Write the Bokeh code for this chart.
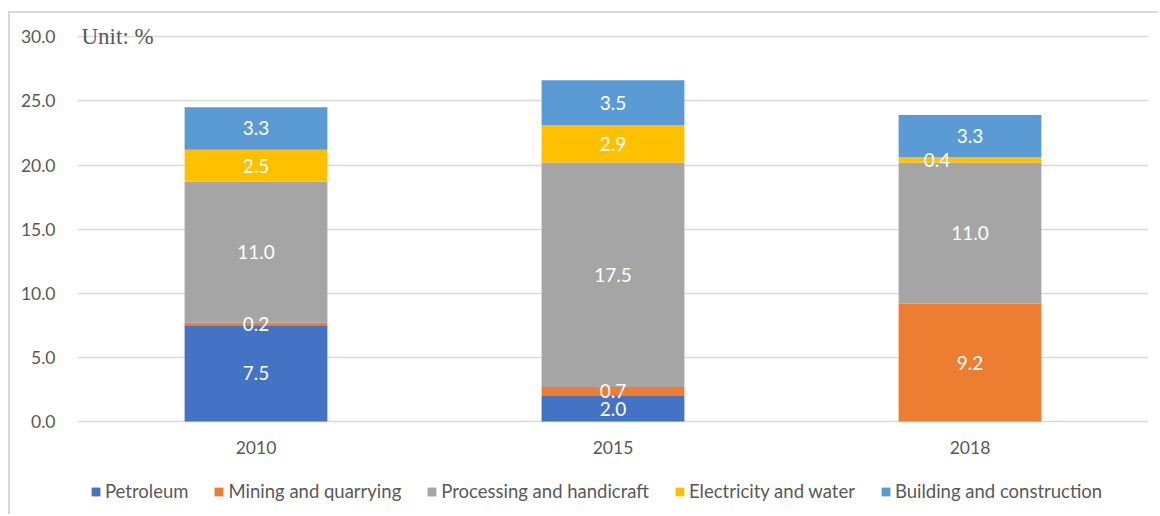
from bokeh.plotting import figure
from bokeh.models import ColumnDataSource, Legend, LegendItem, Label, Range1d, FactorRange, NumeralTickFormatter
from bokeh.embed import file_html
from bokeh.resources import INLINE
from bokeh.core.properties import value

years = ["2010", "2015", "2018"]
series = ["Petroleum", "Mining and quarrying", "Processing and handicraft",
          "Electricity and water", "Building and construction"]
petroleum = [7.5, 2.0, 0.0]
mining = [0.2, 0.7, 9.2]
processing = [11.0, 17.5, 11.0]
electricity = [2.5, 2.9, 0.4]
building = [3.3, 3.5, 3.3]
colors = ["#4472C4", "#ED7D31", "#A5A5A5", "#FFC000", "#5B9BD5"]
y_ticks = [0, 5, 10, 15, 20, 25, 30]
unit_text = "Unit: %"

keys = ["s0", "s1", "s2", "s3", "s4"]
vals = [petroleum, mining, processing, electricity, building]
data = {"year": years}
for k, v in zip(keys, vals):
    data[k] = v
src = ColumnDataSource(data)

FONT = "Lato"
GRAY = "#595959"

p = figure(x_range=FactorRange(*years), y_range=Range1d(-7.4, 30.8),
           width=1150, height=503, output_backend="svg", toolbar_location=None,
           min_border_left=67, min_border_right=12, min_border_top=13, min_border_bottom=0,
           margin=(11, 0, 0, 8))
p.styles = {"border-top": "2px solid #d9d9d9", "border-left": "2px solid #d9d9d9"}
p.outline_line_color = None
p.xgrid.grid_line_color = None
p.ygrid.grid_line_color = "#d9d9d9"
p.ygrid.grid_line_width = 1.5
p.ygrid.ticker = y_ticks
p.yaxis.ticker = y_ticks
p.yaxis.formatter = NumeralTickFormatter(format="0.0")
p.xaxis.fixed_location = 0
for ax in (p.xaxis, p.yaxis):
    ax.axis_line_color = None
    ax.major_tick_line_color = None
    ax.minor_tick_line_color = None
    ax.major_label_text_font = FONT
    ax.major_label_text_font_size = "17.5px"
    ax.major_label_text_color = GRAY
p.yaxis.major_label_standoff = 16
p.xaxis.major_label_standoff = 13

renderers = p.vbar_stack(keys, x="year", width=0.4, source=src, color=colors,
                         line_color=None)

# data labels
lx, ly, lt, lo = [], [], [], []
for i, yr in enumerate(years):
    base = 0.0
    for j, v in enumerate(vals):
        val = v[i]
        if val > 0:
            lx.append(yr)
            ly.append(base + val / 2)
            lt.append("%.1f" % val)
            lo.append(-33 if (yr == "2018" and j == 3) else 0)
        base += val
lsrc = ColumnDataSource(dict(x=lx, y=ly, t=lt, o=lo))
p.text(x="x", y="y", text="t", x_offset="o", source=lsrc, text_color="white",
       text_font=value(FONT), text_font_size="19px", text_align="center",
       text_baseline="middle")

p.add_layout(Label(x=4, y=30.0, x_units="screen", y_units="data", text=unit_text,
                   text_font="Liberation Serif", text_font_size="23px",
                   text_color=GRAY, text_baseline="alphabetic"))

legend = Legend(items=[LegendItem(label=s, renderers=[r]) for s, r in zip(series, renderers)],
                orientation="horizontal", location=(13, 14))
legend.label_text_font = FONT
legend.label_text_font_size = "18.5px"
legend.label_text_color = GRAY
legend.glyph_width = 11
legend.glyph_height = 11
legend.label_standoff = 4
legend.spacing = 25
legend.border_line_color = None
legend.background_fill_alpha = 0
legend.padding = 0
legend.margin = 0
p.add_layout(legend)

open("out.html", "w").write(file_html(p, INLINE))
